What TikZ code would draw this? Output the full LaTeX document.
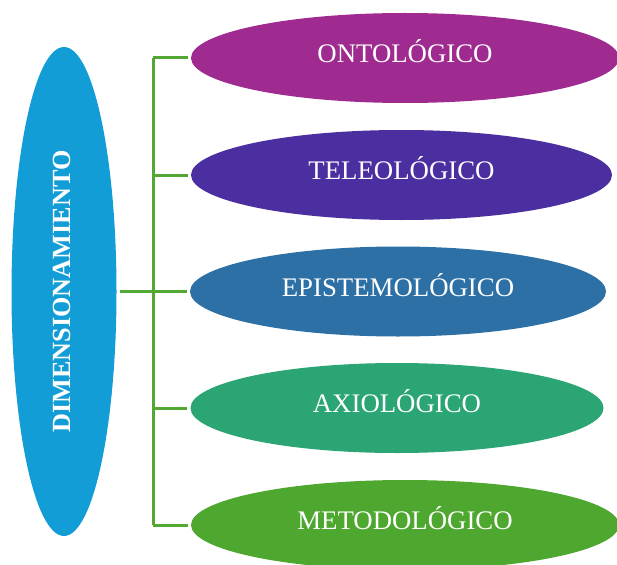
\documentclass[tikz,border=0pt]{standalone}
\usepackage{fontspec}
\setmainfont{Liberation Serif}
\usetikzlibrary{shapes.geometric}
\definecolor{DimBlue}{HTML}{129DD6}
\definecolor{OntoPurple}{HTML}{A02B90}
\definecolor{TeleIndigo}{HTML}{4B2E9F}
\definecolor{EpiBlue}{HTML}{2C70A5}
\definecolor{AxioTeal}{HTML}{2CA574}
\definecolor{MetoGreen}{HTML}{4EA72E}
\definecolor{LinkGreen}{HTML}{52A832}
\newcommand{\blobtext}[1]{\raisebox{-4.7pt}[0pt][0pt]{#1}}

\begin{document}
\begin{tikzpicture}[x=1pt,y=-1pt,
      blob/.style={ellipse,inner sep=0pt,text=white,
        font=\fontsize{26.8}{32}\selectfont,minimum height=90pt},
      link/.style={LinkGreen,line width=3pt}]
    \useasboundingbox (0,0) rectangle (617,564);
    \clip (0,0) rectangle (617,564);
    \node[ellipse,fill=DimBlue,inner sep=0pt,minimum width=105pt,
          minimum height=489pt] (dim) at (64,291.5) {};
    \node[text=white,rotate=90,font=\fontsize{26.2}{31}\selectfont\bfseries]
      at ([xshift=-2.5pt]dim.center) {DIMENSIONAMIENTO};

    \node[blob,fill=OntoPurple,minimum width=428pt] (onto) at (405,58) {\blobtext{ONTOLÓGICO}};
    \node[blob,fill=TeleIndigo,minimum width=421pt] (tele) at (401.5,175) {\blobtext{TELEOLÓGICO}};
    \node[blob,fill=EpiBlue,minimum width=416pt] (epi) at (398,291.5) {\blobtext{EPISTEMOLÓGICO}};
    \node[blob,fill=AxioTeal,minimum width=413pt] (axio) at (397,408) {\blobtext{AXIOLÓGICO}};
    \node[blob,fill=MetoGreen,minimum width=428pt] (meto) at (405,525) {\blobtext{METODOLÓGICO}};

    % connectors
    \coordinate (trunk) at (153,0);
    \draw[link] (dim.east) ++(3,0) -- ([xshift=-3pt]epi.west);
    \draw[link] (onto.west -| trunk) -- (meto.west -| trunk);
    \foreach \n in {onto,tele,axio,meto}
      \draw[link] (\n.west -| trunk) -- ([xshift=-3pt]\n.west);
\end{tikzpicture}
\end{document}
